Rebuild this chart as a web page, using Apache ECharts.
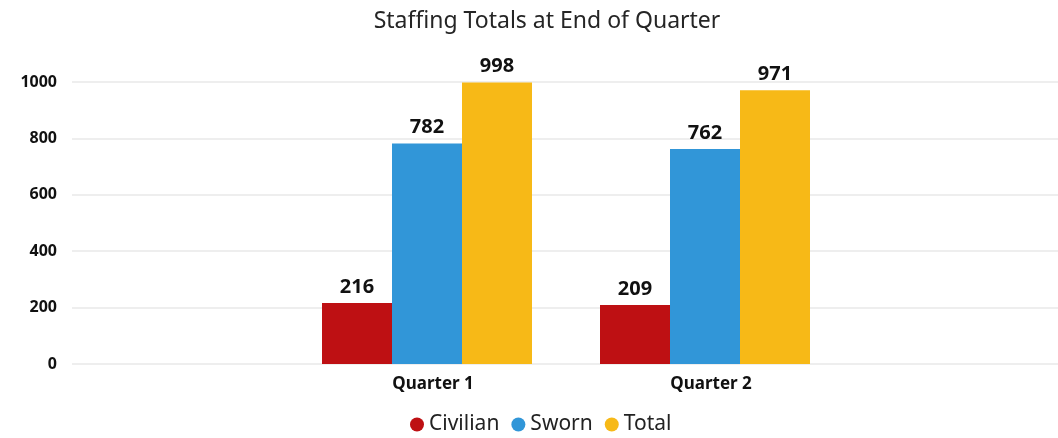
<!DOCTYPE html>
<html>
<head>
<meta charset="utf-8">
<script src="https://cdn.jsdelivr.net/npm/echarts@6/dist/echarts.min.js"></script>
<style>
  html, body { margin: 0; padding: 0; background: #fff; }
  #chart { width: 1058px; height: 438px; }
</style>
</head>
<body>
<div id="chart"></div>
<script>
const quarters = ['Quarter 1', 'Quarter 2'];
const civilian = [216, 209];
const sworn = [782, 762];
const total = [998, 971];
const yTicks = [0, 200, 400, 600, 800, 1000];

const font = "'Noto Sans', 'Open Sans', sans-serif";
const colors = ['#BE1013', '#3196D8', '#F7B917'];

function barSeries(name, data) {
    return {
        name: name,
        type: 'bar',
        xAxisIndex: 1,
        yAxisIndex: 1,
        data: data,
        barWidth: 70,
        barGap: '0%',
        label: {
            show: true,
            position: 'top',
            distance: 6,
            color: '#111',
            fontFamily: font,
            fontWeight: 'bold',
            fontSize: 20
        }
    };
}

const chart = echarts.init(document.getElementById('chart'));
chart.setOption({
    animation: false,
    color: colors,
    title: {
        text: 'Staffing Totals at End of Quarter',
        left: 542,
        textAlign: 'center',
        top: 5,
        textStyle: { fontFamily: font, fontWeight: 'normal', fontSize: 23, color: '#252525' }
    },
    legend: {
        bottom: -2,
        left: 405,
        icon: 'circle',
        itemWidth: 14,
        itemHeight: 14,
        itemGap: 12,
        textStyle: { fontFamily: font, fontSize: 21, color: '#222' },
        data: ['Civilian', 'Sworn', 'Total']
    },
    grid: [
        // full-width grid carrying the y axis and gridlines
        { left: 72, right: 0, top: 82, bottom: 74 },
        // narrower grid holding the bars
        { left: 288, right: 214, top: 82, bottom: 74 }
    ],
    xAxis: [
        {
            type: 'category', gridIndex: 0, data: [''],
            axisLine: { show: false }, axisTick: { show: false }, axisLabel: { show: false }
        },
        {
            type: 'category', gridIndex: 1, data: quarters,
            axisLine: { show: false }, axisTick: { show: false },
            axisLabel: {
                margin: 12,
                padding: [0, 0, 0, 12],
                color: '#111', fontFamily: font, fontWeight: 'bold', fontSize: 17
            }
        }
    ],
    yAxis: [
        {
            type: 'value', gridIndex: 0, min: yTicks[0], max: yTicks[yTicks.length - 1], interval: 200,
            axisLine: { show: false }, axisTick: { show: false },
            splitLine: { lineStyle: { color: '#E8E8E8', width: 1.5 } },
            axisLabel: {
                margin: 15, color: '#111', fontFamily: font, fontWeight: 'bold', fontSize: 16,
                formatter: v => String(v)
            }
        },
        {
            type: 'value', gridIndex: 1, min: yTicks[0], max: yTicks[yTicks.length - 1], interval: 200,
            axisLine: { show: false }, axisTick: { show: false },
            splitLine: { show: false }, axisLabel: { show: false }
        }
    ],
    series: [
        barSeries('Civilian', civilian),
        barSeries('Sworn', sworn),
        barSeries('Total', total)
    ]
});
</script>
</body>
</html>
